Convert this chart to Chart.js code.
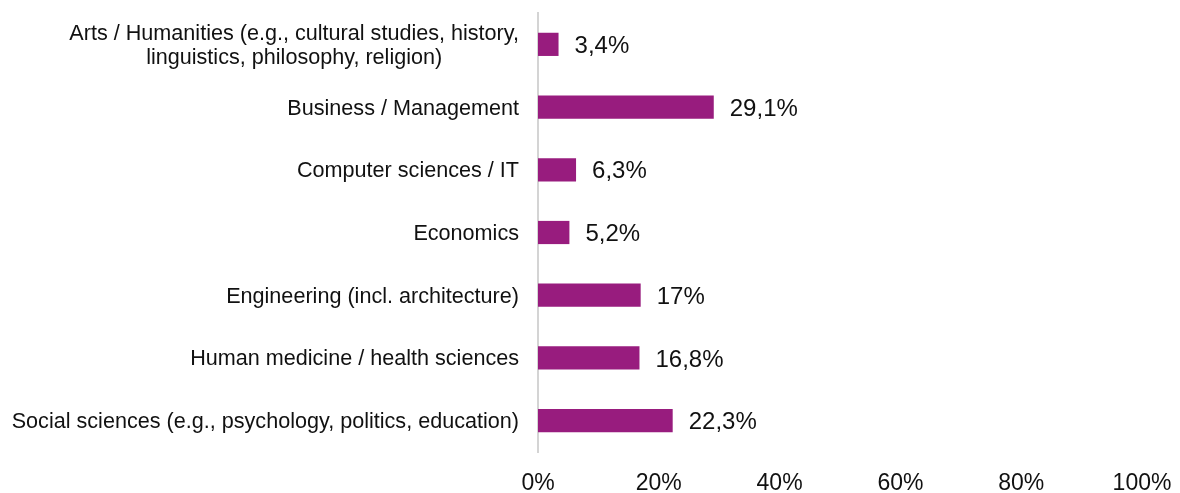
<!DOCTYPE html>
<html>
<head>
<meta charset="utf-8">
<script src="https://cdn.jsdelivr.net/npm/chart.js@4/dist/chart.umd.min.js"></script>
<style>
  html, body { margin: 0; padding: 0; background: #fff; }
  #wrap { width: 1180px; height: 493px; position: relative; }
</style>
</head>
<body>
<div id="wrap"><canvas id="fieldChart"></canvas></div>
<script>
// categories (multi-line ones as arrays)
var categories = [
  ["Arts / Humanities (e.g., cultural studies, history,", "linguistics, philosophy, religion)"],
  "Business / Management",
  "Computer sciences / IT",
  "Economics",
  "Engineering (incl. architecture)",
  "Human medicine / health sciences",
  "Social sciences (e.g., psychology, politics, education)"
];
var shares = [3.4, 29.1, 6.3, 5.2, 17, 16.8, 22.3];
var tickValues = [0, 20, 40, 60, 80, 100];

var FONT = "'Liberation Sans', Arial, Helvetica, sans-serif";
var barColor = "#981c7e";

function fmt(v) {
  return String(v).replace('.', ',') + '%';
}

// category labels: single lines right-aligned, multi-line blocks centred on their widest line
var catLabels = {
  id: 'catLabels',
  afterDraw: function(chart) {
    var ctx = chart.ctx;
    var ys = chart.scales.y;
    var right = chart.chartArea.left - 19;
    ctx.save();
    ctx.font = "21.6px " + FONT;
    ctx.fillStyle = "#111";
    ctx.textBaseline = 'middle';
    chart.data.labels.forEach(function(lab, i) {
      var y = ys.getPixelForTick(i) + 1.5;
      var lines = Array.isArray(lab) ? lab : [lab];
      var widest = 0;
      lines.forEach(function(l) { widest = Math.max(widest, ctx.measureText(l).width); });
      var lh = 24;
      var y0 = y - (lines.length - 1) * lh / 2;
      ctx.textAlign = 'center';
      lines.forEach(function(l, k) {
        ctx.fillText(l, right - widest / 2, y0 + k * lh);
      });
    });
    ctx.restore();
  }
};

// value labels next to the bar ends
var valueLabels = {
  id: 'valueLabels',
  afterDatasetsDraw: function(chart) {
    var ctx = chart.ctx;
    var meta = chart.getDatasetMeta(0);
    ctx.save();
    ctx.font = "24px " + FONT;
    ctx.fillStyle = "#111";
    ctx.textAlign = 'left';
    ctx.textBaseline = 'middle';
    meta.data.forEach(function(bar, i) {
      ctx.fillText(fmt(chart.data.datasets[0].data[i]), bar.x + 16, bar.y + 2);
    });
    ctx.restore();
  }
};

var ctx = document.getElementById("fieldChart").getContext('2d');
var fieldChart = new Chart(ctx, {
  type: 'bar',
  data: {
    labels: categories,
    datasets: [{
      data: shares,
      backgroundColor: barColor,
      borderWidth: 0,
      barPercentage: 0.37,
      categoryPercentage: 1
    }]
  },
  options: {
    indexAxis: 'y',
    responsive: true,
    maintainAspectRatio: false,
    animation: false,
    layout: { padding: { top: 13, right: 38, left: 0, bottom: 0 } },
    plugins: {
      legend: { display: false },
      tooltip: { enabled: false }
    },
    scales: {
      x: {
        min: 0,
        max: 100,
        afterBuildTicks: function(scale) {
          scale.ticks = tickValues.map(function(v) { return { value: v }; });
        },
        afterFit: function(scale) {
          scale.height = 41;
          scale.paddingLeft = 0;
          scale.paddingRight = 0;
        },
        grid: { display: false, drawTicks: false },
        border: { display: false },
        ticks: {
          padding: 18,
          color: "#111",
          font: { family: FONT, size: 23 },
          callback: function(v) { return v + '%'; }
        }
      },
      y: {
        afterFit: function(scale) { scale.width = 538; },
        grid: { display: false, drawTicks: false },
        border: { display: true, color: "#d4d4d4", width: 2 },
        ticks: { display: false }
      }
    }
  },
  plugins: [catLabels, valueLabels]
});
</script>
</body>
</html>
